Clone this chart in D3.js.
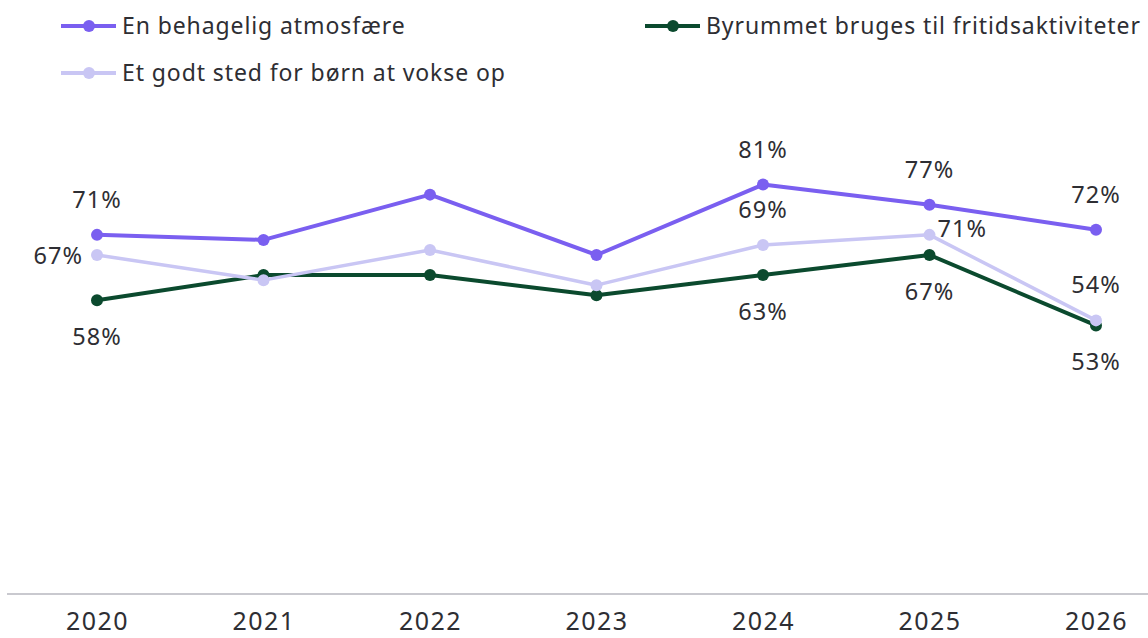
<!DOCTYPE html>
<html><head><meta charset="utf-8">
<script src="https://cdn.jsdelivr.net/npm/d3@7"></script>
<style>body{margin:0;background:#fff;}svg{display:block;}</style>
</head><body>
<svg id="c" width="1148" height="638"></svg>
<script>
const years = ["2020","2021","2022","2023","2024","2025","2026"];
const seriesNames = ["En behagelig atmosfære","Byrummet bruges til fritidsaktiviteter","Et godt sted for børn at vokse op"];
const atmosfaere = [71,70,79,67,81,77,72];
const fritid = [58,63,63,59,63,67,53];
const boern = [67,62,68,61,69,71,54];
const labeledYears = ["2020","2024","2025","2026"];
const colors = ["#7a5ff0","#0b4a2e","#c9c6f4"];

const svg = d3.select("#c");
const font = "'Noto Sans', sans-serif";
const x = d3.scalePoint().domain(years).range([97,1096]);
const y = d3.scaleLinear().domain([0,100]).range([592,89]);

// baseline
svg.append("line").attr("x1",7).attr("x2",1148).attr("y1",594).attr("y2",594)
  .attr("stroke","#c9c9cf").attr("stroke-width",2);

// x axis labels
const xAxis = d3.axisBottom(x).tickSize(0).tickPadding(0);
const gx = svg.append("g").attr("transform","translate(0,612)").call(xAxis);
gx.select(".domain").remove();
gx.selectAll("text").attr("font-family",font).attr("font-size",25).attr("fill","#2e2e33")
  .attr("letter-spacing",1.5).attr("dy","0.71em");

const series = [
  {name:seriesNames[1], values:fritid, color:colors[1], w:4, pos:{"2020":"below","2024":"below","2025":"below","2026":"below"}},
  {name:seriesNames[2], values:boern, color:colors[2], w:3.5, pos:{"2020":"left","2024":"above","2025":"right","2026":"above"}},
  {name:seriesNames[0], values:atmosfaere, color:colors[0], w:4, pos:{"2020":"above","2024":"above","2025":"above","2026":"above"}}
];
const line = d3.line().x((d,i)=>x(years[i])).y(d=>y(d));

series.forEach(s=>{
  const g = svg.append("g");
  g.append("path").datum(s.values).attr("d",line).attr("fill","none")
    .attr("stroke",s.color).attr("stroke-width",s.w).attr("stroke-linejoin","round");
  g.selectAll("circle").data(s.values).join("circle")
    .attr("cx",(d,i)=>x(years[i])).attr("cy",d=>y(d)).attr("r",6).attr("fill",s.color);
});

// labels
series.forEach(s=>{
  s.values.forEach((v,i)=>{
    const yr = years[i];
    if(!labeledYears.includes(yr)) return;
    const p = s.pos[yr];
    let tx = x(yr), ty = y(v), anchor="middle";
    if(p==="above"){ ty -= 27; }
    else if(p==="below"){ ty += 45; }
    else if(p==="left"){ tx -= 14; ty += 9; anchor="end"; }
    else if(p==="right"){ tx += 8; ty += 2; anchor="start"; }
    svg.append("text").attr("x",tx).attr("y",ty).attr("text-anchor",anchor)
      .attr("font-family",font).attr("font-size",23.5).attr("fill","#2e2e33")
      .attr("letter-spacing",1).text(v+"%");
  });
});

// legend
const legendItems = [
  {name:seriesNames[0], color:colors[0], lx:61, ly:26},
  {name:seriesNames[1], color:colors[1], lx:645, ly:26},
  {name:seriesNames[2], color:colors[2], lx:61, ly:73}
];
legendItems.forEach(it=>{
  const g = svg.append("g").attr("transform",`translate(${it.lx},${it.ly})`);
  g.append("line").attr("x1",0).attr("x2",55).attr("y1",0).attr("y2",0)
    .attr("stroke",it.color).attr("stroke-width",4);
  g.append("circle").attr("cx",28).attr("cy",0).attr("r",6).attr("fill",it.color);
  g.append("text").attr("x",61).attr("y",0).attr("dy","0.35em")
    .attr("font-family",font).attr("font-size",23).attr("letter-spacing",0.9)
    .attr("fill","#2e2e33").text(it.name);
});
</script>
</body></html>
